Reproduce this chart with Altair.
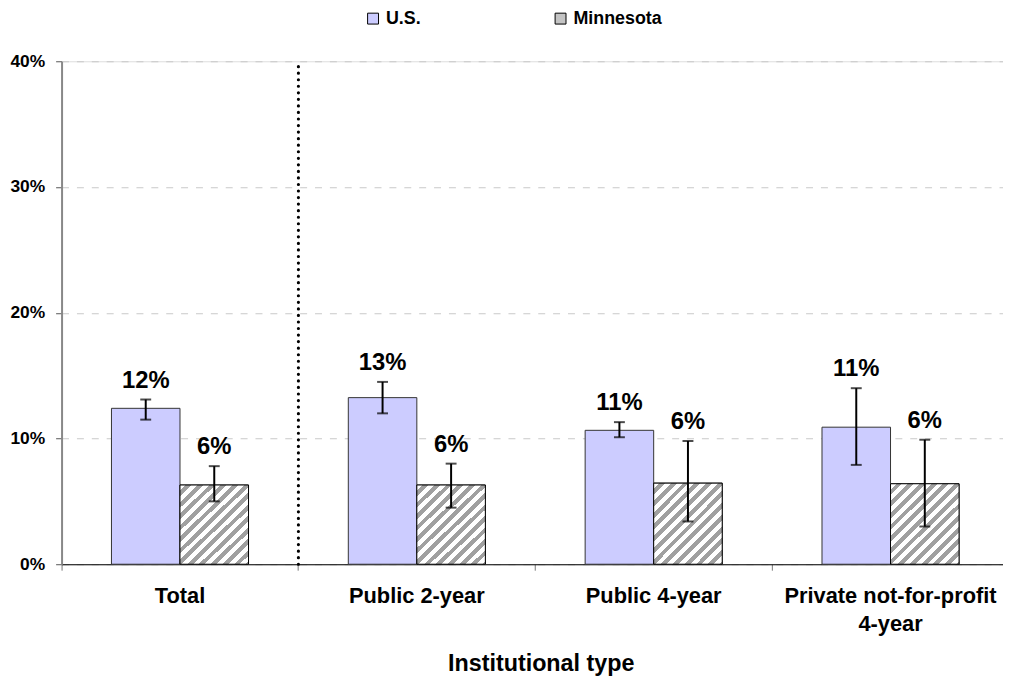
import altair as alt
import pandas as pd

categories = ["Total", "Public 2-year", "Public 4-year", "Private not-for-profit 4-year"]
series = ["U.S.", "Minnesota"]

us_value = [0.124, 0.1325, 0.1065, 0.109]
us_low = [0.115, 0.120, 0.101, 0.079]
us_high = [0.131, 0.145, 0.113, 0.140]

mn_value = [0.063, 0.063, 0.0645, 0.064]
mn_low = [0.050, 0.045, 0.034, 0.030]
mn_high = [0.078, 0.080, 0.098, 0.099]

rows = []
for i, c in enumerate(categories):
    rows.append({"cat": c, "series": "U.S.", "value": us_value[i], "lo": us_low[i], "hi": us_high[i]})
    rows.append({"cat": c, "series": "Minnesota", "value": mn_value[i], "lo": mn_low[i], "hi": mn_high[i]})
df = pd.DataFrame(rows)

sep = pd.DataFrame({"cat": ["Public 2-year"]})

FONT = "Arial, Liberation Sans"

# hatch pattern as a striped gradient
periods = 14
p = 1.0 / periods
stops = []
for k in range(periods):
    stops.append({"offset": round(k * p, 5), "color": "#ffffff"})
    stops.append({"offset": round(k * p + 0.5 * p, 5), "color": "#ffffff"})
    stops.append({"offset": round(k * p + 0.5 * p, 5), "color": "#a0a0a0"})
    stops.append({"offset": round((k + 1) * p, 5), "color": "#a0a0a0"})
hatch = {"gradient": "linear", "x1": 0, "y1": 0, "x2": 1, "y2": 1.18, "stops": stops}

x_enc = alt.X(
    "cat:N",
    sort=categories,
    scale=alt.Scale(paddingInner=0, paddingOuter=0),
    axis=alt.Axis(
        title="Institutional type",
        bandPosition=0,
        labelAngle=0,
        labelFont=FONT,
        labelFontSize=22,
        labelFontWeight="bold",
        labelColor="black",
        labelPadding=16,
        labelLimit=400,
        labelLineHeight=28,
        labelExpr="datum.label == 'Private not-for-profit 4-year' ? ['Private not-for-profit', '4-year'] : datum.label",
        domainColor="black",
        domainWidth=1.2,
        tickColor="#777777",
        tickSize=6,
        titleFont=FONT,
        titleFontSize=23.5,
        titleFontWeight="bold",
        titleColor="black",
        titleBaseline="top",
        titleX=483,
        titleY=88,
        grid=False,
    ),
)

y_scale = alt.Scale(domain=[0, 0.4], nice=False)
y_enc = alt.Y(
    "value:Q",
    scale=y_scale,
    axis=alt.Axis(
        title=None,
        format=".0%",
        values=[0, 0.1, 0.2, 0.3, 0.4],
        labelFont=FONT,
        labelFontSize=17.5,
        labelFontWeight="bold",
        labelColor="black",
        labelPadding=11,
        domainColor="#888888",
        domainWidth=2,
        tickColor="#555555",
        tickSize=6,
        grid=True,
        gridColor="#c8c8c8",
        gridDash=[7, 8],
        gridWidth=1,
    ),
)

xoff = alt.XOffset("series:N", sort=series, scale=alt.Scale(paddingInner=0, paddingOuter=0.728))

bars = alt.Chart(df).mark_bar(stroke="#333333", strokeWidth=1).encode(
    x=x_enc,
    xOffset=xoff,
    y=y_enc,
    fill=alt.Fill(
        "series:N",
        sort=series,
        scale=alt.Scale(domain=series, range=["#ccccff", "#c4c4c4"]),
        legend=alt.Legend(
            title=None,
            orient="none",
            direction="horizontal",
            legendX=305,
            legendY=-52,
            padding=0,
            symbolType="square",
            symbolSize=121,
            symbolStrokeColor="black",
            symbolStrokeWidth=1,
            labelFont=FONT,
            labelFontSize=18,
            labelFontWeight="bold",
            labelColor="black",
            labelOffset=4,
            columnPadding=131,
        ),
    ),
)

hatched = alt.Chart(df).transform_filter(alt.datum.series == "Minnesota").mark_bar(
    stroke="black", strokeWidth=1, fill=hatch
).encode(
    x=alt.X("cat:N", sort=categories),
    xOffset=alt.XOffset("series:N", sort=series),
    y=alt.Y("value:Q"),
)

err = alt.Chart(df).mark_rule(color="black", strokeWidth=2).encode(
    x=alt.X("cat:N", sort=categories),
    xOffset=alt.XOffset("series:N", sort=series),
    y=alt.Y("lo:Q"),
    y2="hi:Q",
)

cap_lo = alt.Chart(df).mark_tick(color="black", thickness=2, size=11, orient="horizontal").encode(
    x=alt.X("cat:N", sort=categories),
    xOffset=alt.XOffset("series:N", sort=series),
    y=alt.Y("lo:Q"),
)
cap_hi = alt.Chart(df).mark_tick(color="black", thickness=2, size=11, orient="horizontal").encode(
    x=alt.X("cat:N", sort=categories),
    xOffset=alt.XOffset("series:N", sort=series),
    y=alt.Y("hi:Q"),
)

labels = alt.Chart(df).mark_text(
    font=FONT, fontSize=24, fontWeight="bold", color="black", baseline="alphabetic", dy=-12
).encode(
    x=alt.X("cat:N", sort=categories),
    xOffset=alt.XOffset("series:N", sort=series),
    y=alt.Y("hi:Q"),
    text=alt.Text("value:Q", format=".0%"),
)

divider = alt.Chart(sep).mark_rule(
    color="black", strokeWidth=3.2, strokeDash=[0, 6.6], strokeCap="round"
).encode(
    x=alt.X("cat:N", sort=categories, bandPosition=0),
    y=alt.datum(0),
    y2=alt.datum(0.4),
)

chart = alt.layer(bars, hatched, err, cap_lo, cap_hi, labels, divider).properties(
    width=955,
    height=507,
    autosize=alt.AutoSizeParams(type="none"),
    padding={"left": 54, "top": 51, "right": -6, "bottom": 114},
).configure_view(stroke=None).configure(background="white")

chart.save("out.html", embed_options={"renderer": "svg", "actions": False})
